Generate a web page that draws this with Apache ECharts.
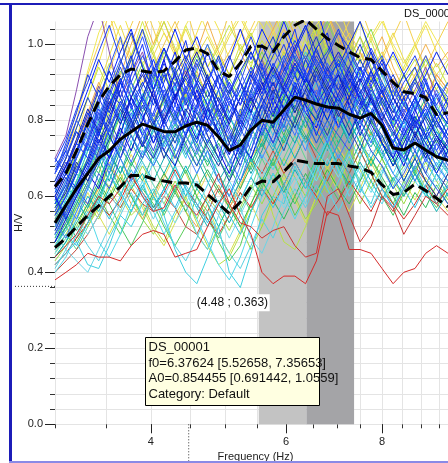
<!DOCTYPE html>
<html>
<head>
<meta charset="utf-8">
<title>H/V</title>
<script src="https://cdn.jsdelivr.net/npm/echarts@6/dist/echarts.min.js"></script>
<style>
  html, body { margin: 0; padding: 0; background: #fff; }
  #chart { width: 448px; height: 463px; }
</style>
</head>
<body>
<div id="chart"></div>
<script>
// frequency samples (Hz), same for every window
const freq = [3.00,3.10,3.20,3.31,3.42,3.53,3.65,3.77,3.90,4.03,4.16,4.30,4.44,4.59,4.74,4.90,5.06,5.23,5.40,5.58,5.77,5.96,6.16,6.36,6.57,6.79,7.02,7.25,7.49,7.74,8.00,8.27,8.54,8.83,9.12,9.42,9.75];

// average H/V and +/- std curves
const hvMean  = [0.53,0.577,0.62,0.66,0.70,0.72,0.75,0.77,0.79,0.78,0.77,0.77,0.785,0.795,0.787,0.756,0.72,0.735,0.774,0.80,0.795,0.827,0.861,0.853,0.843,0.835,0.832,0.816,0.806,0.818,0.787,0.727,0.722,0.74,0.722,0.704,0.695];
const hvPlus  = [0.625,0.66,0.72,0.79,0.85,0.89,0.92,0.935,0.93,0.925,0.93,0.955,0.985,0.99,0.975,0.93,0.915,0.95,0.995,0.995,0.98,1.02,1.05,1.065,1.04,1.015,0.997,0.98,0.965,0.96,0.93,0.90,0.875,0.87,0.86,0.815,0.82];
const hvMinus = [0.465,0.49,0.52,0.55,0.575,0.60,0.625,0.655,0.655,0.645,0.64,0.635,0.635,0.63,0.605,0.58,0.555,0.585,0.625,0.64,0.638,0.665,0.695,0.69,0.686,0.686,0.686,0.68,0.675,0.663,0.63,0.605,0.61,0.632,0.615,0.595,0.572];

// individual windows - warm colours
const wY1 = [0.60,0.66,0.75,0.86,0.95,1.04,1.10,1.02,0.94,1.00,1.08,1.02,0.95,1.03,1.10,1.04,0.96,1.02,1.09,1.05,0.98,1.06,1.12,1.05,0.98,1.04,1.10,1.02,0.96,1.02,1.07,0.99,0.93,0.99,1.05,0.98,0.92];
const wY2 = [0.55,0.62,0.70,0.78,0.88,0.95,0.90,0.97,1.06,0.98,0.90,0.96,1.05,0.98,0.92,0.86,0.92,1.00,0.94,1.03,1.10,1.00,0.94,1.02,1.08,0.98,0.92,0.98,1.06,0.97,0.90,0.86,0.94,1.00,0.93,0.88,0.95];
const wY3 = [0.62,0.70,0.80,0.92,1.00,1.08,0.98,1.05,1.12,1.04,0.96,1.04,1.10,1.00,0.94,1.00,1.08,0.98,1.04,1.10,1.04,0.98,1.04,1.10,1.02,1.08,1.00,1.06,1.10,1.02,0.96,1.02,1.08,1.00,0.94,1.00,1.06];
const wY4 = [0.66,0.73,0.82,0.93,1.03,1.09,1.02,0.96,1.03,1.09,1.03,0.98,1.05,1.10,1.03,0.97,1.03,1.08,1.02,1.08,1.03,1.08,1.03,0.99,1.05,1.09,1.05,1.00,1.06,1.01,1.06,1.00,0.95,1.00,1.06,1.01,0.96];
const wY5 = [0.57,0.64,0.72,0.81,0.89,0.97,1.05,0.97,0.90,0.97,1.03,0.97,1.04,0.97,1.02,0.96,1.02,1.07,1.01,0.96,1.03,0.97,1.02,0.97,1.04,1.00,0.95,1.01,0.96,0.91,0.97,1.03,0.96,0.91,0.97,0.92,0.96];
const wY6 = [0.54,0.60,0.67,0.75,0.84,0.93,1.01,0.95,0.89,0.94,1.00,1.06,0.99,0.94,0.99,0.93,0.98,1.04,0.98,0.93,0.99,1.04,0.98,1.04,0.98,0.93,0.98,1.03,0.98,0.93,0.98,0.92,0.87,0.92,0.97,0.91,0.87];
const wY7 = [0.50,0.55,0.60,0.56,0.62,0.69,0.64,0.71,0.65,0.59,0.65,0.71,0.66,0.60,0.66,0.61,0.57,0.63,0.69,0.64,0.70,0.66,0.72,0.78,0.72,0.67,0.73,0.68,0.74,0.69,0.75,0.70,0.65,0.71,0.66,0.72,0.67];
const wO1 = [0.60,0.66,0.74,0.82,0.90,0.84,0.92,1.00,1.08,1.00,1.06,0.98,0.92,0.98,1.06,0.98,0.92,0.98,0.92,0.98,1.04,1.10,1.02,0.96,1.02,1.08,1.02,0.96,1.02,0.96,1.02,0.94,0.88,0.94,1.00,0.94,0.98];
const wO2 = [0.52,0.56,0.60,0.58,0.62,0.68,0.64,0.58,0.54,0.60,0.66,0.62,0.56,0.52,0.58,0.63,0.57,0.62,0.70,0.75,0.68,0.74,0.80,0.86,0.78,0.72,0.80,0.87,0.82,0.76,0.83,0.90,0.84,0.78,0.85,0.92,0.88];
const wO3 = [0.48,0.53,0.58,0.64,0.71,0.78,0.72,0.79,0.73,0.80,0.86,0.80,0.87,0.93,0.86,0.80,0.75,0.82,0.88,0.82,0.88,0.94,0.99,0.92,0.97,0.91,0.97,0.92,0.98,0.91,0.86,0.91,0.85,0.91,0.86,0.92,0.88];
const wL1 = [0.64,0.70,0.78,0.86,0.94,0.88,0.95,1.03,0.95,0.99,1.06,0.99,0.93,0.99,0.94,0.99,1.05,0.99,0.95,1.01,0.96,1.02,1.07,1.01,0.95,1.00,0.94,1.00,0.95,1.01,0.93,0.97,0.91,0.96,0.90,0.95,0.89];
const wL2 = [0.52,0.57,0.63,0.69,0.76,0.83,0.90,0.97,1.04,0.97,0.91,0.96,0.90,0.85,0.91,0.97,0.92,0.98,1.03,0.96,0.92,0.98,0.93,0.99,1.05,0.98,0.93,0.98,0.93,0.98,0.92,0.87,0.92,0.87,0.93,0.88,0.84];
const wL3 = [0.49,0.54,0.60,0.66,0.72,0.79,0.86,0.79,0.73,0.79,0.85,0.91,0.84,0.89,0.83,0.77,0.84,0.90,0.85,0.79,0.85,0.91,0.86,0.80,0.86,0.92,0.97,0.90,0.85,0.91,0.85,0.80,0.86,0.91,0.84,0.79,0.85];
const wL4 = [0.45,0.49,0.55,0.61,0.55,0.50,0.56,0.63,0.57,0.51,0.47,0.53,0.60,0.66,0.58,0.50,0.45,0.51,0.58,0.52,0.58,0.65,0.59,0.53,0.60,0.67,0.61,0.56,0.62,0.69,0.63,0.58,0.64,0.59,0.65,0.60,0.56];
const wG1 = [0.58,0.64,0.72,0.80,0.76,0.84,0.93,0.88,0.82,0.90,0.98,0.92,0.86,0.93,1.00,0.94,0.86,0.92,0.98,0.92,0.99,1.07,1.00,0.94,1.00,1.06,0.99,0.92,0.98,1.04,0.96,0.88,0.84,0.90,0.96,0.90,0.85];
const wG2 = [0.50,0.56,0.63,0.70,0.66,0.74,0.82,0.76,0.70,0.78,0.86,0.80,0.74,0.80,0.88,0.80,0.72,0.78,0.85,0.92,0.84,0.90,0.97,0.90,0.84,0.90,0.96,0.88,0.82,0.88,0.82,0.76,0.80,0.86,0.80,0.74,0.80];
const wG3 = [0.52,0.58,0.64,0.70,0.78,0.72,0.66,0.72,0.80,0.88,0.80,0.74,0.80,0.74,0.68,0.74,0.68,0.62,0.68,0.76,0.82,0.76,0.84,0.78,0.86,0.80,0.74,0.80,0.86,0.80,0.74,0.68,0.74,0.80,0.86,0.78,0.72];
const wG4 = [0.56,0.52,0.58,0.66,0.74,0.82,0.90,0.96,0.88,0.80,0.86,0.94,0.86,0.92,0.86,0.80,0.74,0.82,0.90,0.96,0.90,0.84,0.90,0.96,1.04,0.96,0.90,0.96,1.02,0.94,0.88,0.82,0.88,0.94,0.88,0.82,0.88];
const wG5 = [0.45,0.50,0.46,0.52,0.58,0.66,0.60,0.68,0.74,0.68,0.62,0.68,0.74,0.80,0.72,0.66,0.60,0.56,0.62,0.70,0.64,0.70,0.76,0.70,0.64,0.70,0.76,0.70,0.64,0.70,0.64,0.58,0.64,0.70,0.64,0.58,0.64];
const wG6 = [0.43,0.47,0.52,0.58,0.54,0.60,0.66,0.60,0.54,0.50,0.56,0.62,0.56,0.50,0.46,0.52,0.58,0.52,0.46,0.52,0.60,0.66,0.60,0.54,0.58,0.64,0.70,0.64,0.58,0.64,0.70,0.64,0.60,0.66,0.72,0.66,0.62];
const wG7 = [0.46,0.50,0.55,0.52,0.57,0.63,0.60,0.55,0.58,0.52,0.48,0.55,0.60,0.53,0.47,0.42,0.44,0.50,0.58,0.65,0.55,0.48,0.46,0.52,0.60,0.68,0.62,0.70,0.76,0.68,0.74,0.80,0.72,0.66,0.73,0.80,0.74];
const wG8 = [0.48,0.52,0.48,0.53,0.60,0.55,0.50,0.56,0.62,0.58,0.52,0.47,0.52,0.60,0.56,0.48,0.43,0.47,0.56,0.62,0.70,0.62,0.55,0.60,0.67,0.74,0.68,0.62,0.70,0.77,0.70,0.64,0.68,0.75,0.82,0.76,0.70];
const wG9 = [0.55,0.61,0.68,0.74,0.70,0.77,0.84,0.78,0.85,0.92,0.85,0.80,0.86,0.82,0.77,0.83,0.79,0.73,0.79,0.86,0.81,0.87,0.82,0.88,0.94,0.88,0.83,0.89,0.84,0.79,0.85,0.79,0.75,0.81,0.77,0.83,0.78];
const wG10 = [0.51,0.57,0.64,0.72,0.80,0.74,0.81,0.88,0.95,0.88,0.93,0.86,0.91,0.97,0.91,0.85,0.91,0.86,0.93,0.98,0.92,0.97,0.91,0.98,0.93,0.99,0.93,0.87,0.93,0.88,0.93,0.86,0.92,0.86,0.81,0.86,0.82];
const wG11 = [0.59,0.54,0.49,0.55,0.61,0.68,0.62,0.69,0.64,0.71,0.78,0.71,0.66,0.72,0.66,0.61,0.67,0.73,0.67,0.74,0.68,0.75,0.81,0.76,0.72,0.78,0.72,0.68,0.74,0.80,0.74,0.69,0.75,0.81,0.76,0.71,0.67];
const wG12 = [0.47,0.52,0.57,0.63,0.59,0.66,0.73,0.68,0.74,0.80,0.74,0.79,0.73,0.68,0.75,0.70,0.65,0.71,0.78,0.73,0.79,0.74,0.80,0.75,0.81,0.86,0.80,0.75,0.80,0.75,0.70,0.75,0.71,0.76,0.71,0.67,0.72];
const wG13 = [0.50,0.55,0.51,0.57,0.63,0.58,0.52,0.47,0.53,0.60,0.55,0.61,0.67,0.60,0.54,0.49,0.55,0.61,0.56,0.63,0.69,0.63,0.58,0.64,0.70,0.64,0.59,0.66,0.72,0.66,0.60,0.55,0.61,0.67,0.61,0.57,0.63];
const wG14 = [0.47,0.51,0.57,0.63,0.68,0.62,0.57,0.62,0.68,0.63,0.58,0.64,0.59,0.54,0.60,0.56,0.51,0.57,0.63,0.58,0.64,0.70,0.65,0.60,0.66,0.61,0.67,0.73,0.67,0.62,0.68,0.63,0.58,0.64,0.69,0.64,0.59];
const wG15 = [0.44,0.48,0.53,0.58,0.64,0.59,0.65,0.60,0.55,0.61,0.66,0.61,0.56,0.62,0.67,0.62,0.57,0.52,0.58,0.64,0.59,0.54,0.60,0.66,0.61,0.67,0.62,0.58,0.64,0.70,0.65,0.60,0.55,0.61,0.57,0.63,0.58];
const wP1 = [0.70,0.76,0.88,1.02,1.10,0.98,0.86,0.92,0.98,0.88,0.80,0.86,0.94,0.86,0.78,0.84,0.90,0.84,0.90,0.96,0.88,0.94,1.00,0.92,0.86,0.92,0.98,0.90,0.84,0.90,0.96,0.88,0.82,0.88,0.94,0.86,0.80];
const wP2 = [0.63,0.68,0.74,0.81,0.89,0.83,0.91,0.86,0.80,0.87,0.81,0.88,0.93,0.86,0.91,0.85,0.80,0.86,0.92,0.87,0.94,0.89,0.96,0.91,0.87,0.93,0.88,0.84,0.90,0.85,0.81,0.76,0.82,0.77,0.72,0.77,0.73];
const wR3 = [0.40,0.43,0.46,0.50,0.55,0.60,0.57,0.62,0.58,0.56,0.60,0.57,0.52,0.50,0.56,0.62,0.58,0.64,0.70,0.66,0.72,0.66,0.70,0.76,0.70,0.64,0.70,0.66,0.72,0.66,0.60,0.56,0.62,0.68,0.64,0.60,0.66];
const wR4 = [0.42,0.45,0.49,0.53,0.58,0.55,0.59,0.65,0.61,0.57,0.61,0.67,0.62,0.58,0.54,0.50,0.55,0.61,0.57,0.62,0.58,0.63,0.69,0.64,0.60,0.55,0.59,0.64,0.60,0.56,0.62,0.58,0.54,0.58,0.63,0.58,0.55];
// teal / cyan
const wT1 = [0.54,0.60,0.66,0.62,0.68,0.76,0.70,0.64,0.70,0.78,0.72,0.66,0.60,0.66,0.72,0.66,0.60,0.66,0.74,0.80,0.74,0.68,0.74,0.80,0.74,0.80,0.86,0.80,0.74,0.70,0.76,0.70,0.64,0.70,0.76,0.70,0.66];
const wT2 = [0.46,0.52,0.58,0.64,0.70,0.64,0.72,0.80,0.74,0.68,0.74,0.82,0.76,0.70,0.64,0.58,0.64,0.72,0.66,0.72,0.80,0.86,0.80,0.74,0.80,0.86,0.80,0.74,0.80,0.86,0.78,0.72,0.76,0.70,0.76,0.82,0.76];
const wT3 = [0.62,0.58,0.64,0.72,0.80,0.88,0.80,0.74,0.82,0.90,0.84,0.76,0.70,0.78,0.86,0.78,0.72,0.80,0.88,0.82,0.76,0.84,0.90,0.84,0.90,0.84,0.92,0.98,0.90,0.84,0.90,0.84,0.78,0.84,0.90,0.84,0.78];
const wT4 = [0.44,0.48,0.54,0.60,0.56,0.62,0.68,0.62,0.66,0.60,0.56,0.62,0.68,0.62,0.58,0.52,0.58,0.64,0.70,0.64,0.70,0.76,0.70,0.76,0.72,0.68,0.74,0.80,0.74,0.68,0.74,0.68,0.72,0.66,0.60,0.66,0.60];
const wT5 = [0.58,0.64,0.70,0.76,0.84,0.76,0.82,0.88,0.80,0.86,0.80,0.88,0.94,0.88,0.82,0.76,0.82,0.88,0.80,0.86,0.92,0.86,0.92,0.98,0.92,0.86,0.92,0.86,0.80,0.86,0.92,0.84,0.78,0.84,0.80,0.86,0.90];
const wT6 = [0.49,0.55,0.61,0.57,0.63,0.71,0.66,0.74,0.69,0.64,0.70,0.77,0.71,0.76,0.70,0.64,0.69,0.75,0.70,0.77,0.72,0.79,0.74,0.81,0.77,0.72,0.78,0.84,0.77,0.73,0.79,0.74,0.69,0.74,0.70,0.75,0.71];
const wT7 = [0.52,0.57,0.63,0.69,0.64,0.71,0.77,0.83,0.77,0.71,0.66,0.72,0.79,0.73,0.69,0.75,0.81,0.75,0.69,0.74,0.80,0.86,0.80,0.85,0.80,0.75,0.81,0.76,0.82,0.77,0.71,0.77,0.72,0.67,0.72,0.77,0.72];
const wT8 = [0.48,0.53,0.59,0.54,0.60,0.66,0.61,0.56,0.63,0.57,0.62,0.68,0.62,0.57,0.52,0.58,0.53,0.59,0.65,0.60,0.66,0.61,0.67,0.62,0.68,0.74,0.68,0.63,0.69,0.64,0.59,0.65,0.60,0.66,0.61,0.56,0.61];
const wC1 = [0.42,0.45,0.48,0.42,0.41,0.47,0.55,0.52,0.58,0.62,0.55,0.46,0.40,0.37,0.44,0.52,0.40,0.36,0.45,0.55,0.60,0.58,0.68,0.62,0.70,0.75,0.66,0.72,0.62,0.58,0.66,0.72,0.64,0.70,0.78,0.72,0.66];
const wC2 = [0.50,0.46,0.43,0.40,0.46,0.52,0.58,0.64,0.60,0.54,0.60,0.66,0.58,0.50,0.46,0.55,0.63,0.57,0.49,0.45,0.52,0.60,0.65,0.58,0.66,0.73,0.67,0.60,0.65,0.72,0.68,0.62,0.70,0.76,0.70,0.64,0.70];
const wC3 = [0.40,0.44,0.50,0.56,0.48,0.44,0.50,0.58,0.64,0.56,0.50,0.56,0.62,0.54,0.48,0.42,0.38,0.44,0.52,0.60,0.66,0.60,0.54,0.60,0.68,0.62,0.56,0.62,0.68,0.62,0.58,0.64,0.70,0.64,0.60,0.66,0.72];
const wC4 = [0.57,0.63,0.59,0.66,0.73,0.67,0.74,0.81,0.87,0.79,0.73,0.79,0.86,0.80,0.74,0.69,0.76,0.70,0.77,0.84,0.78,0.83,0.88,0.81,0.86,0.92,0.86,0.80,0.87,0.81,0.86,0.79,0.85,0.78,0.74,0.80,0.75];
const wC5 = [0.47,0.51,0.56,0.62,0.58,0.66,0.61,0.56,0.62,0.69,0.76,0.68,0.62,0.57,0.63,0.70,0.64,0.59,0.65,0.71,0.67,0.73,0.79,0.74,0.68,0.75,0.81,0.75,0.70,0.76,0.71,0.66,0.72,0.78,0.73,0.68,0.73];
const wC6 = [0.53,0.59,0.66,0.73,0.68,0.75,0.82,0.76,0.71,0.77,0.83,0.89,0.82,0.76,0.82,0.88,0.81,0.76,0.83,0.78,0.73,0.79,0.85,0.91,0.85,0.80,0.86,0.81,0.87,0.83,0.78,0.74,0.80,0.76,0.82,0.77,0.73];
const wC7 = [0.45,0.49,0.54,0.50,0.55,0.61,0.56,0.63,0.69,0.63,0.58,0.53,0.58,0.64,0.59,0.55,0.49,0.55,0.61,0.67,0.62,0.57,0.63,0.69,0.64,0.70,0.65,0.71,0.66,0.61,0.67,0.62,0.67,0.72,0.67,0.62,0.67];
const wC8 = [0.41,0.46,0.52,0.47,0.43,0.49,0.55,0.61,0.55,0.60,0.53,0.47,0.43,0.49,0.56,0.50,0.45,0.41,0.47,0.54,0.49,0.56,0.62,0.57,0.63,0.58,0.64,0.70,0.63,0.57,0.62,0.57,0.63,0.68,0.62,0.58,0.63];
const wC9 = [0.46,0.50,0.47,0.53,0.59,0.54,0.60,0.67,0.61,0.56,0.62,0.57,0.63,0.58,0.53,0.59,0.55,0.50,0.56,0.62,0.57,0.63,0.69,0.64,0.59,0.65,0.71,0.66,0.61,0.67,0.62,0.57,0.62,0.57,0.63,0.69,0.64];
// blues
const wB1 = [0.62,0.68,0.74,0.70,0.78,0.86,0.80,0.92,1.00,0.88,0.78,0.84,0.95,0.85,0.76,0.70,0.80,0.90,0.82,0.94,0.86,0.96,1.04,0.92,0.84,0.94,0.86,0.80,0.90,0.98,0.88,0.78,0.72,0.82,0.90,0.80,0.74];
const wB2 = [0.55,0.60,0.66,0.74,0.82,0.76,0.70,0.78,0.86,0.80,0.72,0.68,0.76,0.84,0.92,0.82,0.74,0.68,0.76,0.84,0.78,0.86,0.92,0.84,0.92,0.86,0.78,0.84,0.76,0.82,0.74,0.68,0.74,0.80,0.72,0.66,0.72];
const wB3 = [0.68,0.72,0.66,0.74,0.84,0.94,1.02,0.90,0.82,0.74,0.82,0.90,0.80,0.72,0.80,0.88,0.78,0.72,0.82,0.76,0.84,0.78,0.88,0.96,0.90,0.82,0.90,0.84,0.92,0.86,0.78,0.70,0.78,0.72,0.66,0.74,0.68];
const wB4 = [0.48,0.54,0.60,0.66,0.62,0.70,0.78,0.72,0.80,0.88,0.96,0.86,0.78,0.88,0.80,0.72,0.66,0.74,0.70,0.78,0.86,0.80,0.88,0.82,0.78,0.86,0.92,0.84,0.78,0.86,0.80,0.74,0.68,0.76,0.70,0.76,0.70];
const wB5 = [0.58,0.64,0.70,0.78,0.72,0.66,0.74,0.82,0.76,0.70,0.78,0.72,0.82,0.90,0.84,0.76,0.70,0.64,0.72,0.82,0.90,0.82,0.76,0.84,0.80,0.74,0.82,0.88,0.80,0.74,0.82,0.76,0.70,0.64,0.70,0.66,0.62];
const wB6 = [0.64,0.70,0.78,0.86,0.80,0.88,0.84,0.78,0.86,0.94,0.86,0.80,0.88,0.96,0.90,0.82,0.88,0.80,0.88,0.96,1.02,0.94,0.88,0.96,1.02,0.94,0.88,0.94,0.88,0.80,0.86,0.80,0.86,0.78,0.84,0.78,0.84];
const wB7 = [0.52,0.58,0.54,0.62,0.70,0.78,0.70,0.64,0.72,0.68,0.74,0.80,0.72,0.66,0.72,0.64,0.60,0.68,0.76,0.70,0.76,0.84,0.78,0.72,0.80,0.76,0.70,0.76,0.84,0.78,0.72,0.66,0.62,0.68,0.74,0.68,0.64];
const wB8 = [0.60,0.66,0.62,0.68,0.76,0.84,0.90,0.84,0.76,0.82,0.90,0.98,0.88,0.80,0.74,0.80,0.86,0.78,0.86,0.80,0.74,0.82,0.90,0.84,0.76,0.84,0.78,0.86,0.94,0.86,0.80,0.74,0.80,0.86,0.78,0.72,0.78];
const wB9 = [0.56,0.62,0.68,0.64,0.72,0.80,0.74,0.80,0.74,0.70,0.76,0.70,0.76,0.82,0.76,0.70,0.64,0.70,0.78,0.84,0.78,0.72,0.80,0.88,0.82,0.76,0.84,0.78,0.72,0.80,0.76,0.70,0.64,0.70,0.64,0.60,0.66];
const wB10 = [0.66,0.74,0.82,0.92,0.86,0.80,0.88,0.96,1.04,0.94,0.86,0.92,0.84,0.90,0.98,0.90,0.82,0.88,0.94,0.88,0.94,1.00,0.92,1.00,0.94,0.98,1.04,0.96,0.90,0.96,0.90,0.84,0.90,0.94,0.86,0.80,0.86];
const wB11 = [0.50,0.56,0.62,0.58,0.66,0.62,0.70,0.76,0.70,0.76,0.72,0.78,0.74,0.68,0.74,0.80,0.72,0.78,0.72,0.80,0.74,0.80,0.86,0.80,0.74,0.80,0.76,0.72,0.78,0.72,0.68,0.62,0.66,0.72,0.66,0.62,0.58];
const wB12 = [0.70,0.66,0.72,0.80,0.88,0.82,0.90,0.84,0.90,0.84,0.92,0.86,0.92,0.86,0.80,0.86,0.80,0.86,0.92,0.86,0.92,0.88,0.94,0.90,0.96,0.90,0.84,0.90,0.96,0.90,0.96,0.90,0.84,0.80,0.76,0.82,0.76];
const wB13 = [0.66,0.72,0.80,0.88,0.96,0.90,0.98,1.04,0.94,0.88,0.96,1.04,0.96,1.02,0.94,0.88,0.96,1.04,0.96,1.04,0.98,1.06,0.98,1.04,1.10,1.00,0.94,1.00,1.06,0.98,0.92,0.98,0.92,0.86,0.92,0.98,0.92];
const wB14 = [0.60,0.55,0.62,0.70,0.78,0.86,0.94,0.86,0.78,0.72,0.80,0.74,0.82,0.90,0.98,0.90,0.84,0.90,0.98,0.90,0.84,0.92,0.98,0.92,0.86,0.92,0.86,0.92,0.86,0.92,0.84,0.78,0.84,0.90,0.84,0.90,0.84];
const wB15 = [0.58,0.63,0.71,0.80,0.74,0.79,0.90,0.97,0.85,0.79,0.83,0.93,1.01,0.89,0.81,0.77,0.85,0.81,0.91,1.00,0.93,0.87,0.95,0.90,0.99,1.03,0.92,0.88,0.84,0.93,0.85,0.80,0.86,0.79,0.83,0.76,0.72];
const wB16 = [0.63,0.69,0.66,0.75,0.83,0.77,0.85,0.79,0.73,0.86,0.93,0.84,0.79,0.74,0.83,0.92,0.86,0.79,0.87,0.95,0.84,0.91,0.99,1.05,0.95,0.89,0.96,0.91,0.85,0.82,0.89,0.83,0.77,0.85,0.91,0.83,0.79];
const wB17 = [0.57,0.61,0.69,0.64,0.69,0.75,0.83,0.77,0.84,0.78,0.70,0.76,0.83,0.78,0.73,0.68,0.74,0.81,0.86,0.80,0.88,0.83,0.78,0.85,0.93,0.87,0.81,0.86,0.80,0.87,0.79,0.73,0.70,0.77,0.71,0.75,0.69];
const wB18 = [0.66,0.71,0.77,0.73,0.81,0.89,0.96,0.88,0.83,0.91,0.85,0.79,0.85,0.94,1.00,0.92,0.84,0.80,0.87,0.83,0.91,0.97,0.89,0.93,0.86,0.95,0.90,0.98,0.92,0.87,0.81,0.88,0.82,0.76,0.82,0.88,0.81];
const wB19 = [0.51,0.57,0.63,0.69,0.77,0.70,0.76,0.86,0.81,0.74,0.80,0.87,0.81,0.75,0.83,0.77,0.71,0.77,0.84,0.90,0.82,0.88,0.83,0.91,0.86,0.80,0.87,0.93,0.85,0.79,0.74,0.70,0.76,0.83,0.76,0.70,0.74];
const wB20 = [0.69,0.75,0.83,0.90,0.98,1.05,0.96,0.90,0.97,0.91,0.99,0.93,0.87,0.95,0.88,0.81,0.87,0.95,1.02,0.94,0.89,0.95,1.01,0.96,0.90,0.97,1.03,0.99,0.93,0.99,0.93,0.86,0.92,0.97,0.90,0.84,0.90];
const wB21 = [0.53,0.49,0.56,0.63,0.71,0.78,0.73,0.79,0.86,0.80,0.75,0.81,0.76,0.71,0.78,0.73,0.68,0.76,0.82,0.77,0.83,0.77,0.83,0.89,0.82,0.78,0.85,0.80,0.86,0.81,0.75,0.71,0.77,0.72,0.78,0.72,0.67];
const wB22 = [0.61,0.67,0.74,0.82,0.76,0.84,0.91,0.83,0.89,0.96,0.89,0.82,0.76,0.83,0.90,0.97,0.89,0.84,0.93,0.87,0.95,0.90,0.85,0.93,0.99,0.91,0.95,0.88,0.94,0.89,0.95,0.86,0.80,0.86,0.81,0.87,0.80];
const wB23 = [0.59,0.65,0.61,0.67,0.74,0.81,0.88,0.80,0.73,0.79,0.86,0.92,0.85,0.78,0.84,0.76,0.71,0.80,0.76,0.84,0.90,0.83,0.89,0.84,0.80,0.88,0.82,0.76,0.83,0.89,0.82,0.77,0.72,0.79,0.74,0.70,0.75];
const wB24 = [0.56,0.62,0.70,0.77,0.85,0.93,0.86,0.94,1.02,0.93,0.87,0.81,0.89,0.83,0.90,0.96,0.88,0.93,0.86,0.92,0.99,0.93,0.97,0.91,0.96,0.91,0.97,0.92,0.87,0.93,0.97,0.89,0.84,0.91,0.97,0.90,0.86];
const wB25 = [0.60,0.54,0.60,0.67,0.75,0.70,0.79,0.86,0.93,0.86,0.79,0.86,0.91,0.85,0.90,0.83,0.77,0.71,0.79,0.86,0.81,0.89,0.95,0.89,0.84,0.89,0.85,0.91,0.86,0.81,0.88,0.81,0.76,0.81,0.75,0.80,0.75];
const wB26 = [0.67,0.73,0.80,0.75,0.82,0.77,0.84,0.90,0.85,0.92,0.99,0.91,0.85,0.90,0.84,0.79,0.75,0.83,0.78,0.86,0.93,0.87,0.93,0.97,0.92,0.87,0.93,0.98,0.92,0.96,0.89,0.83,0.79,0.85,0.80,0.75,0.80];
const wB27 = [0.64,0.70,0.77,0.72,0.79,0.87,0.95,1.03,0.94,0.88,0.95,0.89,0.96,0.90,0.84,0.91,0.97,0.90,0.85,0.91,0.97,1.03,0.96,0.91,0.97,0.92,0.88,0.94,1.00,0.93,0.87,0.92,0.86,0.91,0.85,0.90,0.84];
const wB28 = [0.50,0.55,0.61,0.67,0.74,0.68,0.75,0.69,0.76,0.82,0.76,0.70,0.77,0.83,0.77,0.82,0.76,0.70,0.76,0.82,0.87,0.81,0.87,0.82,0.88,0.83,0.78,0.84,0.79,0.85,0.79,0.74,0.70,0.75,0.69,0.74,0.70];
const wB29 = [0.62,0.68,0.75,0.83,0.77,0.85,0.79,0.86,0.92,0.86,0.80,0.86,0.92,0.98,0.91,0.85,0.79,0.86,0.82,0.89,0.94,0.88,0.82,0.88,0.94,0.88,0.92,0.86,0.91,0.85,0.80,0.86,0.81,0.76,0.81,0.76,0.72];
const wB30 = [0.55,0.60,0.67,0.74,0.70,0.78,0.85,0.80,0.86,0.81,0.88,0.82,0.88,0.82,0.77,0.84,0.90,0.84,0.90,0.85,0.79,0.86,0.92,0.87,0.82,0.87,0.93,0.88,0.83,0.88,0.84,0.78,0.83,0.78,0.84,0.79,0.75];
const wB31 = [0.60,0.66,0.72,0.79,0.86,0.93,0.86,0.80,0.86,0.93,0.99,0.92,0.97,0.91,0.86,0.92,0.87,0.93,0.98,0.92,0.87,0.93,0.99,1.05,0.98,0.93,0.98,0.93,0.87,0.93,0.87,0.82,0.88,0.83,0.88,0.83,0.79];
// low red windows
const wR1 = [0.38,0.40,0.42,0.45,0.44,0.44,0.43,0.47,0.50,0.51,0.50,0.44,0.45,0.46,0.52,0.58,0.62,0.55,0.50,0.40,0.37,0.39,0.39,0.37,0.43,0.56,0.55,0.46,0.46,0.45,0.41,0.37,0.40,0.41,0.45,0.47,0.45];
const wR2 = [0.44,0.47,0.50,0.55,0.60,0.58,0.62,0.66,0.60,0.56,0.57,0.63,0.58,0.55,0.60,0.66,0.58,0.53,0.52,0.49,0.51,0.52,0.47,0.44,0.45,0.60,0.62,0.55,0.48,0.52,0.60,0.57,0.50,0.55,0.60,0.58,0.62];

const windowCurves = [
    wY1, wY2, wY3, wY4, wY5, wY6, wY7, wO1, wO2, wO3, wL1, wL2, wL3, wL4,
    wG1, wG2, wG3, wG4, wG5, wG6, wG7, wG8, wG9, wG10, wG11, wG12, wG13, wG14, wG15, wP1, wP2, wR3, wR4,
    wT1, wT2, wT3, wT4, wT5, wT6, wT7, wT8, wC1, wC2, wC3, wC4, wC5, wC6, wC7, wC8, wC9,
    wB1, wB2, wB3, wB4, wB5, wB6, wB7, wB8, wB9, wB10, wB11, wB12, wB13, wB14, wB15, wB16,
    wB17, wB18, wB19, wB20, wB21, wB22, wB23, wB24, wB25, wB26, wB27, wB28, wB29, wB30, wB31,
    wR1, wR2
];
const windowColors = [
    '#f2e24a','#d4e64a','#f5d04e','#f0e858','#ecdc48','#f4c850','#e8d850','#f2b048','#eea04e','#f4a84a','#c8e444','#c0dc38','#a8e048','#d8e050',
    '#86dc4c','#3cbf6a','#2fbf55','#a6e04e','#5cd68e','#98d842','#b8e046','#58cc58','#4cc846','#70d850','#38c080','#22b878','#48c860','#9cdc48','#30b858','#8a4fb0','#7048b8','#c24a3c','#d03028',
    '#22b6c6','#12a0a6','#34cce6','#08bcbc','#44c4f0','#18aab0','#14b4a0','#10b0b0','#3ecfe0','#6ad4e6','#52d8ea','#28c4dc','#48d4f0','#20bce8','#78dcec','#58d0e0','#38c0e8',
    '#1434ff','#0018d0','#2a5af0','#0000e6','#3272ff','#1442c6','#4282ff','#0828ff','#2444a4','#1a3af6','#3252de','#0030e0','#0020ff','#2a4ae6','#0a2cf0','#1c3cff',
    '#18309a','#3a66ff','#0014e0','#2040f0','#4a7cf8','#0030ff','#1028c8','#2c54ff','#0822e8','#305cf0','#1838e0','#3868ff','#0c1cb0','#2448ff','#0a30d8',
    '#d42a2a','#c83434'
];

// axes
const xRange = [3, 9.75];
const yRange = [0, 1.06];
const xMinorTicks = [3,3.5,4,4.5,5,5.5,6,6.5,7,7.5,8,8.5,9,9.5];
const xMajorTicks = [4,6,8];
const yMinorTicks = [0,0.04,0.08,0.12,0.16,0.2,0.24,0.28,0.32,0.36,0.4,0.44,0.48,0.52,0.56,0.6,0.64,0.68,0.72,0.76,0.8,0.84,0.88,0.92,0.96,1.0,1.04];
const yMajorTicks = [0,0.2,0.4,0.6,0.8,1.0];

// f0 window and cursor
const f0Band = [5.52658, 6.37624, 7.35653];
const cursorPoint = [4.48, 0.363];
const infoLines = ['DS_00001', 'f0=6.37624 [5.52658, 7.35653]', 'A0=0.854455 [0.691442, 1.0559]', 'Category: Default'];

const lg = v => Math.log10(v);
const toPts = vals => freq.map((f, i) => [lg(f), vals[i]]);
const labelFont = { fontFamily: 'Liberation Sans', fontSize: 11, color: '#222' };

const chart = echarts.init(document.getElementById('chart'));

const series = [];
// grey f0 band behind everything
series.push({
    type: 'line', data: toPts(hvMean), symbol: 'none', silent: true,
    lineStyle: { opacity: 0 }, z: 1,
    markArea: {
        silent: true, z: 1,
        data: [
            [{ xAxis: lg(f0Band[0]), itemStyle: { color: '#c3c3c3' } }, { xAxis: lg(f0Band[1]) }],
            [{ xAxis: lg(f0Band[1]), itemStyle: { color: '#a4a4a7' } }, { xAxis: lg(f0Band[2]) }]
        ]
    }
});
windowCurves.forEach((vals, k) => {
    series.push({
        type: 'line', data: toPts(vals), symbol: 'none', silent: true, z: 3,
        lineStyle: { width: 1, color: windowColors[k] }
    });
});
series.push({ type: 'line', data: toPts(hvPlus), symbol: 'none', silent: true, z: 5, lineStyle: { width: 3, color: '#000', type: [11, 6] } });
series.push({ type: 'line', data: toPts(hvMinus), symbol: 'none', silent: true, z: 5, lineStyle: { width: 3, color: '#000', type: [11, 6] } });
series.push({ type: 'line', data: toPts(hvMean), symbol: 'none', silent: true, z: 6, lineStyle: { width: 3, color: '#000' } });

chart.setOption({
    animation: false,
    backgroundColor: '#fff',
    grid: { left: 55, right: 0, top: 21.5, bottom: 38.7, outerBoundsMode: 'none' },
    xAxis: [
        {
            type: 'value', min: lg(xRange[0]), max: lg(xRange[1]), position: 'bottom',
            axisLine: { show: false },
            axisTick: { show: true, length: 4, customValues: xMinorTicks.map(lg), lineStyle: { color: '#333' } },
            axisLabel: { show: false },
            splitLine: { show: true, lineStyle: { color: '#e4e4e4', width: 1 } },
            name: 'Frequency (Hz)', nameLocation: 'middle', nameGap: 27,
            nameTextStyle: Object.assign({ padding: [0, 0, 0, 8] }, labelFont)
        },
        {
            type: 'value', min: lg(xRange[0]), max: lg(xRange[1]), position: 'bottom',
            axisLine: { show: false },
            axisTick: { show: true, length: 9, customValues: xMajorTicks.map(lg), lineStyle: { color: '#222' } },
            axisLabel: Object.assign({
                customValues: xMajorTicks.map(lg), margin: 12,
                formatter: v => String(Math.round(Math.pow(10, v)))
            }, labelFont),
            splitLine: { show: false }
        }
    ],
    yAxis: [
        {
            type: 'value', min: yRange[0], max: yRange[1], position: 'left',
            axisLine: { show: false },
            axisTick: { show: true, length: 5, customValues: yMinorTicks, lineStyle: { color: '#333' } },
            axisLabel: { show: false },
            splitLine: { show: true, lineStyle: { color: '#e4e4e4', width: 1 } },
            name: 'H/V', nameLocation: 'middle', nameGap: 31,
            nameTextStyle: labelFont
        },
        {
            type: 'value', min: yRange[0], max: yRange[1], position: 'left',
            axisLine: { show: false },
            axisTick: { show: true, length: 10, customValues: yMajorTicks, lineStyle: { color: '#222' } },
            axisLabel: Object.assign({ customValues: yMajorTicks, margin: 12, formatter: v => v.toFixed(1) }, labelFont),
            splitLine: { show: false }
        }
    ],
    series: series
});

// cursor position from the axes
const cp = chart.convertToPixel({ xAxisIndex: 0, yAxisIndex: 0 }, [lg(cursorPoint[0]), cursorPoint[1]]);
const gridLeft = 55, gridBottom = 463 - 38.7;

const graphic = [
    { type: 'line', z: 100, shape: { x1: 15, y1: cp[1], x2: gridLeft, y2: cp[1] }, style: { stroke: '#333', lineWidth: 1, lineDash: [1, 2] } },
    { type: 'line', z: 100, shape: { x1: cp[0], y1: gridBottom, x2: cp[0], y2: 463 }, style: { stroke: '#333', lineWidth: 1, lineDash: [1, 2] } },
    { type: 'rect', z: 100, shape: { x: cp[0] + 6, y: cp[1] + 8, width: 75, height: 17 }, style: { fill: '#fff' } },
    { type: 'text', z: 101, x: cp[0] + 8, y: cp[1] + 10, style: { text: '(' + cursorPoint[0] + ' ; ' + cursorPoint[1] + ')', font: '12px "Liberation Sans"', fill: '#111' } },
    { type: 'rect', z: 100, shape: { x: 145.5, y: 337.5, width: 174, height: 68 }, style: { fill: '#ffffe1', stroke: '#000', lineWidth: 1 } },
    { type: 'text', z: 100, x: 404, y: 8, style: { text: 'DS_00001', font: '11px "Liberation Sans"', fill: '#111' } },
    // window frame
    { type: 'rect', z: 110, shape: { x: 0, y: 3, width: 448, height: 2 }, style: { fill: '#1c1cb8' } },
    { type: 'rect', z: 110, shape: { x: 9, y: 3, width: 3, height: 460 }, style: { fill: '#1c1cb8' } },
    { type: 'rect', z: 110, shape: { x: 9, y: 461, width: 439, height: 2 }, style: { fill: '#8a8ae6' } }
];
infoLines.forEach((t, i) => {
    graphic.push({ type: 'text', z: 101, x: 148.5, y: 341 + i * 15.5, style: { text: t, font: '13px "Liberation Sans"', fill: '#111' } });
});
chart.setOption({ graphic: graphic });
</script>
</body>
</html>
